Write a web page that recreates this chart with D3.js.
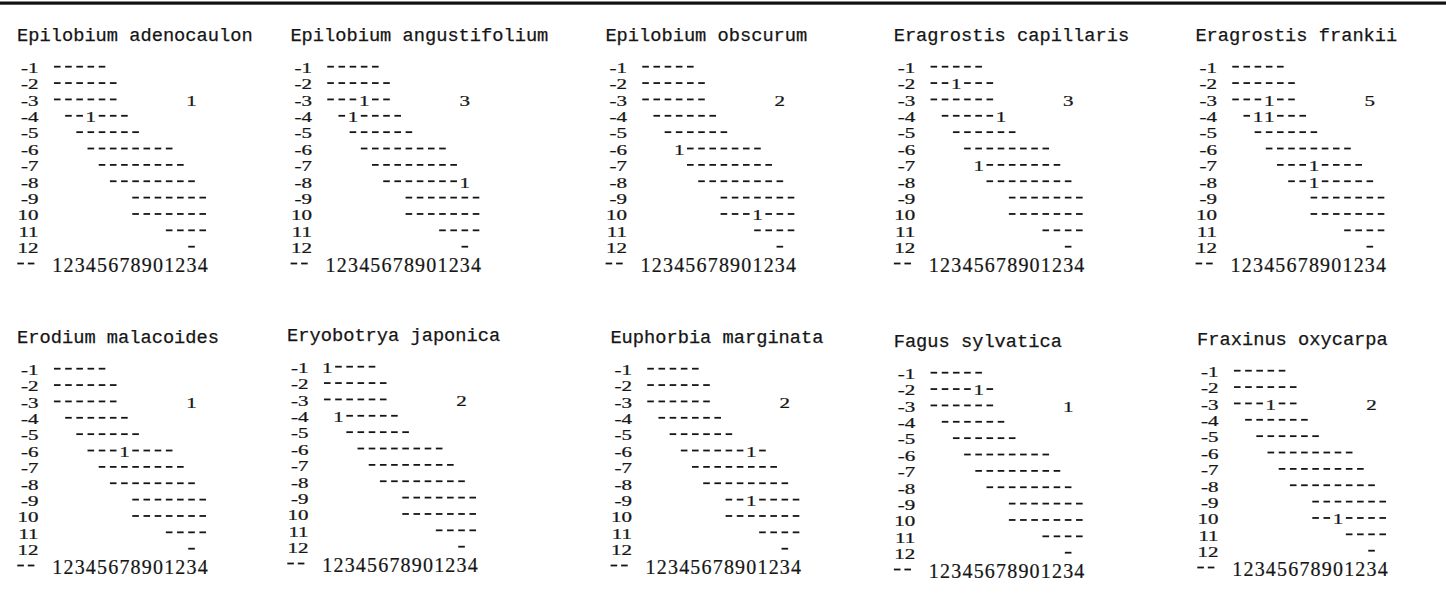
<!DOCTYPE html>
<html><head><meta charset="utf-8">
<script src="https://cdn.jsdelivr.net/npm/d3@7"></script>
<style>body{margin:0;background:#fff}svg{display:block}</style>
</head><body>
<script>
// ---------------- data ----------------
const species = [
  "Epilobium adenocaulon", "Epilobium angustifolium", "Epilobium obscurum",
  "Eragrostis capillaris", "Eragrostis frankii", "Erodium malacoides",
  "Eryobotrya japonica", "Euphorbia marginata", "Fagus sylvatica", "Fraxinus oxycarpa"
];
const totals = [1, 3, 2, 3, 5, 1, 2, 2, 1, 2];
// observations per species: [row label, column]
const observations = [
  [["-4", 4]],
  [["-3", 4], ["-4", 3], ["-8", 13]],
  [["-6", 4], ["10", 11]],
  [["-2", 3], ["-4", 7], ["-7", 5]],
  [["-3", 4], ["-4", 3], ["-4", 4], ["-7", 8], ["-8", 8]],
  [["-6", 7]],
  [["-1", 1], ["-4", 2]],
  [["-6", 10], ["-9", 10]],
  [["-2", 5]],
  [["-3", 4], ["10", 10]]
];
const rowLabels = ["-1", "-2", "-3", "-4", "-5", "-6", "-7", "-8", "-9", "10", "11", "12"];
const bandStart = [1, 1, 1, 2, 3, 4, 5, 6, 8, 8, 11, 13];
const bandEnd   = [5, 6, 6, 7, 8, 11, 12, 13, 14, 14, 14, 13];
const colTicks = ["1","2","3","4","5","6","7","8","9","0","1","2","3","4"];
const columns = d3.range(1, 15);
const totalRow = "-3";
const totalCol = 13;

// ---------------- layout ----------------
const W = 1446, H = 596;
const CW = 11.19;
const panelX = [18.1, 291.4, 606.4, 894.7, 1196.4, 18.1, 288.1, 611.4, 894.7, 1198.1];
const panelDY = [0, 0, 0, 0, 0, 302, 300, 302, 306, 304];
const INK = "#151515";
const MONO = "'Liberation Mono', 'DejaVu Sans Mono', monospace";
const SERIF = "'Liberation Serif', 'DejaVu Serif', serif";
const SQ = 0.7;

const svg = d3.select("body").append("svg").attr("width", W).attr("height", H);
svg.append("rect").attr("width", W).attr("height", H).attr("fill", "#fff");
svg.append("rect").attr("x", 0).attr("y", 1.5).attr("width", W).attr("height", 3.2).attr("fill", "#111");

species.forEach((name, k) => {
  const x0 = panelX[k], dy = panelDY[k];
  const x = d3.scaleLinear().domain([1, 14]).range([x0 + 3.5 * CW, x0 + 16.5 * CW]);
  const y = d3.scalePoint().domain(rowLabels).range([73 + dy, 253 + dy]);
  const axisY = 272 + dy;
  const g = svg.append("g").attr("class", "panel");

  g.append("text").attr("x", x0 - 1).attr("y", 41 + dy)
    .attr("font-family", MONO).attr("font-size", 18.7).attr("fill", INK)
    .attr("stroke", INK).attr("stroke-width", 0.25).text(name);

  // row labels
  g.selectAll("text.rl").data(rowLabels).join("text").attr("class", "rl")
    .attr("transform", d => `translate(${x0 + 20.5},${y(d)}) scale(1,${SQ})`)
    .attr("text-anchor", "end").attr("font-family", SERIF).attr("font-size", 21)
    .attr("fill", INK).attr("stroke", INK).attr("stroke-width", 0.35).text(d => d);

  const obs = observations[k];
  const isObs = (r, c) => obs.some(o => o[0] === r && o[1] === c);
  const cells = [];
  rowLabels.forEach((r, i) => {
    for (let c = bandStart[i]; c <= bandEnd[i]; c++) cells.push({ r, c, o: isObs(r, c) });
  });

  // dashes of the band
  g.selectAll("line.dash").data(cells.filter(d => !d.o)).join("line").attr("class", "dash")
    .attr("x1", d => x(d.c) - 3.3).attr("x2", d => x(d.c) + 3.3)
    .attr("y1", d => y(d.r) - 6.3).attr("y2", d => y(d.r) - 6.3)
    .attr("stroke", INK).attr("stroke-width", 1.8);

  // observations
  g.selectAll("text.obs").data(cells.filter(d => d.o)).join("text").attr("class", "obs")
    .attr("transform", d => `translate(${x(d.c)},${y(d.r)}) scale(1,${SQ})`)
    .attr("text-anchor", "middle").attr("font-family", SERIF).attr("font-size", 21)
    .attr("fill", INK).attr("stroke", INK).attr("stroke-width", 0.35).text("1");

  // total
  g.append("text")
    .attr("transform", `translate(${x(totalCol)},${y(totalRow)}) scale(1,${SQ})`)
    .attr("text-anchor", "middle").attr("font-family", SERIF).attr("font-size", 21)
    .attr("fill", INK).attr("stroke", INK).attr("stroke-width", 0.35).text(totals[k]);

  // bottom axis row
  g.selectAll("line.ad").data([0, 1]).join("line").attr("class", "ad")
    .attr("x1", d => x0 + 2.5 + d * 10.5 - 3.3).attr("x2", d => x0 + 2.5 + d * 10.5 + 3.3)
    .attr("y1", axisY - 8.5).attr("y2", axisY - 8.5)
    .attr("stroke", INK).attr("stroke-width", 1.8);
  g.selectAll("text.tick").data(columns).join("text").attr("class", "tick")
    .attr("x", d => x(d)).attr("y", axisY)
    .attr("text-anchor", "middle").attr("font-family", SERIF).attr("font-size", 20)
    .attr("fill", INK).attr("stroke", INK).attr("stroke-width", 0.2).text(d => colTicks[d - 1]);
});
</script>
</body></html>
